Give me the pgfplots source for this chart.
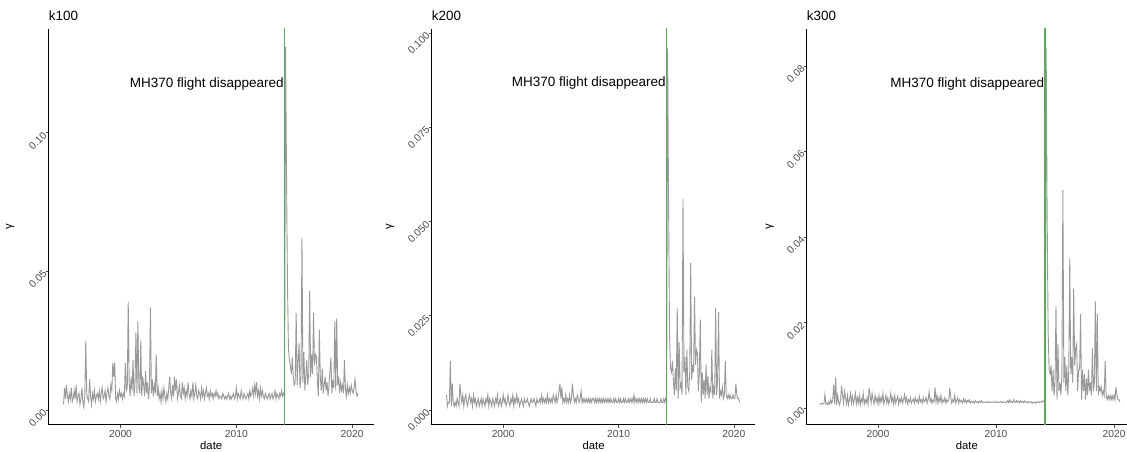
\documentclass[border=0pt]{standalone}
\usepackage{fontspec}
\setmainfont{Liberation Sans}
\usepackage{pgfplots}
\usepackage{pgfplotstable}
\pgfplotsset{compat=1.18}
\definecolor{tickgray}{HTML}{4D4D4D}
\definecolor{linegray}{HTML}{999999}
\definecolor{vgreen}{HTML}{5DAA5D}

% monthly values, first row starts Feb 1995
\pgfplotstableread[row sep=\\]{
y\\
0.002\\ 0.008\\ 0.004\\ 0.009\\ 0.005\\ 0.003\\ 0.006\\ 0.004\\ 0.008\\ 0.003\\ 0.004\\ 0.007\\
0.004\\ 0.009\\ 0.003\\ 0.005\\ 0.006\\ 0.002\\ 0.004\\ 0.008\\ 0.003\\ 0.001\\ 0.005\\ 0.025\\
0.006\\ 0.004\\ 0.003\\ 0.011\\ 0.005\\ 0.002\\ 0.006\\ 0.004\\ 0.007\\ 0.003\\ 0.005\\ 0.006\\
0.004\\ 0.007\\ 0.003\\ 0.006\\ 0.008\\ 0.004\\ 0.005\\ 0.007\\ 0.003\\ 0.006\\ 0.008\\ 0.005\\
0.004\\ 0.009\\ 0.007\\ 0.017\\ 0.012\\ 0.017\\ 0.004\\ 0.003\\ 0.006\\ 0.004\\ 0.007\\ 0.005\\
0.006\\ 0.004\\ 0.006\\ 0.005\\ 0.017\\ 0.007\\ 0.008\\ 0.039\\ 0.010\\ 0.005\\ 0.012\\ 0.007\\
0.018\\ 0.005\\ 0.009\\ 0.028\\ 0.006\\ 0.032\\ 0.008\\ 0.006\\ 0.025\\ 0.005\\ 0.012\\ 0.009\\
0.005\\ 0.014\\ 0.006\\ 0.010\\ 0.004\\ 0.008\\ 0.037\\ 0.006\\ 0.011\\ 0.005\\ 0.009\\ 0.006\\
0.020\\ 0.005\\ 0.008\\ 0.004\\ 0.006\\ 0.003\\ 0.007\\ 0.004\\ 0.008\\ 0.005\\ 0.003\\ 0.006\\
0.004\\ 0.008\\ 0.012\\ 0.006\\ 0.004\\ 0.009\\ 0.005\\ 0.012\\ 0.007\\ 0.011\\ 0.004\\ 0.006\\
0.009\\ 0.005\\ 0.004\\ 0.010\\ 0.006\\ 0.008\\ 0.004\\ 0.007\\ 0.005\\ 0.010\\ 0.006\\ 0.004\\
0.007\\ 0.005\\ 0.010\\ 0.004\\ 0.006\\ 0.009\\ 0.005\\ 0.004\\ 0.007\\ 0.006\\ 0.004\\ 0.008\\
0.005\\ 0.007\\ 0.004\\ 0.006\\ 0.008\\ 0.005\\ 0.006\\ 0.004\\ 0.007\\ 0.005\\ 0.006\\ 0.004\\
0.006\\ 0.005\\ 0.007\\ 0.005\\ 0.006\\ 0.004\\ 0.005\\ 0.005\\ 0.004\\ 0.006\\ 0.005\\ 0.004\\
0.005\\ 0.004\\ 0.005\\ 0.006\\ 0.004\\ 0.005\\ 0.004\\ 0.005\\ 0.006\\ 0.004\\ 0.005\\ 0.008\\
0.004\\ 0.006\\ 0.005\\ 0.004\\ 0.007\\ 0.005\\ 0.004\\ 0.006\\ 0.005\\ 0.004\\ 0.005\\ 0.006\\
0.004\\ 0.007\\ 0.005\\ 0.006\\ 0.008\\ 0.005\\ 0.009\\ 0.006\\ 0.010\\ 0.005\\ 0.007\\ 0.004\\
0.008\\ 0.005\\ 0.007\\ 0.005\\ 0.004\\ 0.006\\ 0.005\\ 0.004\\ 0.005\\ 0.006\\ 0.004\\ 0.005\\
0.006\\ 0.004\\ 0.005\\ 0.007\\ 0.004\\ 0.006\\ 0.005\\ 0.004\\ 0.006\\ 0.005\\ 0.007\\ 0.005\\
0.006\\ 0.005\\ 0.131\\ 0.085\\ 0.045\\ 0.022\\ 0.018\\ 0.016\\ 0.013\\ 0.019\\ 0.012\\ 0.009\\
0.010\\ 0.035\\ 0.009\\ 0.018\\ 0.024\\ 0.008\\ 0.012\\ 0.062\\ 0.010\\ 0.021\\ 0.007\\ 0.012\\
0.018\\ 0.009\\ 0.013\\ 0.043\\ 0.012\\ 0.020\\ 0.013\\ 0.035\\ 0.016\\ 0.020\\ 0.019\\ 0.010\\
0.005\\ 0.029\\ 0.012\\ 0.007\\ 0.015\\ 0.006\\ 0.009\\ 0.012\\ 0.007\\ 0.010\\ 0.005\\ 0.009\\
0.014\\ 0.019\\ 0.006\\ 0.010\\ 0.008\\ 0.032\\ 0.007\\ 0.033\\ 0.009\\ 0.012\\ 0.006\\ 0.010\\
0.007\\ 0.009\\ 0.006\\ 0.018\\ 0.008\\ 0.005\\ 0.009\\ 0.006\\ 0.008\\ 0.006\\ 0.009\\ 0.007\\
0.006\\ 0.008\\ 0.011\\ 0.007\\ 0.005\\ 0.006\\
}\dataA

\pgfplotstableread[row sep=\\]{
y\\
0.004\\ 0.001\\ 0.002\\ 0.002\\ 0.013\\ 0.001\\ 0.007\\ 0.002\\ 0.001\\ 0.002\\ 0.001\\ 0.003\\
0.002\\ 0.001\\ 0.007\\ 0.004\\ 0.002\\ 0.004\\ 0.001\\ 0.003\\ 0.004\\ 0.002\\ 0.001\\ 0.003\\
0.004\\ 0.002\\ 0.003\\ 0.001\\ 0.004\\ 0.002\\ 0.003\\ 0.001\\ 0.002\\ 0.003\\ 0.001\\ 0.002\\
0.003\\ 0.001\\ 0.003\\ 0.002\\ 0.001\\ 0.003\\ 0.002\\ 0.004\\ 0.001\\ 0.003\\ 0.002\\ 0.001\\
0.003\\ 0.002\\ 0.001\\ 0.003\\ 0.002\\ 0.004\\ 0.001\\ 0.002\\ 0.003\\ 0.001\\ 0.002\\ 0.004\\
0.002\\ 0.003\\ 0.001\\ 0.002\\ 0.004\\ 0.002\\ 0.001\\ 0.003\\ 0.002\\ 0.004\\ 0.001\\ 0.003\\
0.002\\ 0.004\\ 0.002\\ 0.003\\ 0.001\\ 0.002\\ 0.003\\ 0.002\\ 0.001\\ 0.003\\ 0.002\\ 0.002\\
0.003\\ 0.002\\ 0.001\\ 0.002\\ 0.003\\ 0.002\\ 0.002\\ 0.003\\ 0.002\\ 0.001\\ 0.003\\ 0.002\\
0.002\\ 0.003\\ 0.002\\ 0.004\\ 0.002\\ 0.003\\ 0.002\\ 0.003\\ 0.002\\ 0.004\\ 0.002\\ 0.003\\
0.002\\ 0.003\\ 0.002\\ 0.004\\ 0.003\\ 0.002\\ 0.004\\ 0.002\\ 0.003\\ 0.005\\ 0.007\\ 0.003\\
0.006\\ 0.002\\ 0.003\\ 0.002\\ 0.004\\ 0.002\\ 0.003\\ 0.002\\ 0.004\\ 0.002\\ 0.003\\ 0.007\\
0.004\\ 0.002\\ 0.003\\ 0.002\\ 0.004\\ 0.003\\ 0.002\\ 0.003\\ 0.005\\ 0.002\\ 0.003\\ 0.002\\
0.003\\ 0.002\\ 0.003\\ 0.002\\ 0.003\\ 0.002\\ 0.003\\ 0.002\\ 0.003\\ 0.003\\ 0.002\\ 0.003\\
0.002\\ 0.003\\ 0.002\\ 0.003\\ 0.002\\ 0.003\\ 0.002\\ 0.003\\ 0.002\\ 0.003\\ 0.002\\ 0.003\\
0.002\\ 0.003\\ 0.002\\ 0.003\\ 0.002\\ 0.002\\ 0.003\\ 0.002\\ 0.003\\ 0.002\\ 0.002\\ 0.003\\
0.002\\ 0.003\\ 0.002\\ 0.002\\ 0.003\\ 0.002\\ 0.003\\ 0.002\\ 0.002\\ 0.003\\ 0.002\\ 0.003\\
0.002\\ 0.003\\ 0.002\\ 0.004\\ 0.002\\ 0.003\\ 0.002\\ 0.003\\ 0.002\\ 0.003\\ 0.002\\ 0.003\\
0.002\\ 0.003\\ 0.002\\ 0.003\\ 0.002\\ 0.003\\ 0.002\\ 0.002\\ 0.003\\ 0.002\\ 0.002\\ 0.002\\
0.003\\ 0.002\\ 0.002\\ 0.003\\ 0.002\\ 0.002\\ 0.002\\ 0.003\\ 0.002\\ 0.002\\ 0.003\\ 0.002\\
0.003\\ 0.002\\ 0.096\\ 0.055\\ 0.020\\ 0.011\\ 0.010\\ 0.013\\ 0.008\\ 0.004\\ 0.011\\ 0.005\\
0.027\\ 0.003\\ 0.018\\ 0.006\\ 0.007\\ 0.004\\ 0.056\\ 0.010\\ 0.014\\ 0.004\\ 0.016\\ 0.006\\
0.005\\ 0.010\\ 0.039\\ 0.008\\ 0.012\\ 0.010\\ 0.030\\ 0.012\\ 0.016\\ 0.015\\ 0.005\\ 0.010\\
0.024\\ 0.002\\ 0.010\\ 0.004\\ 0.008\\ 0.003\\ 0.012\\ 0.004\\ 0.009\\ 0.003\\ 0.006\\ 0.005\\
0.016\\ 0.003\\ 0.006\\ 0.004\\ 0.027\\ 0.004\\ 0.008\\ 0.026\\ 0.003\\ 0.005\\ 0.004\\ 0.006\\
0.003\\ 0.004\\ 0.013\\ 0.004\\ 0.003\\ 0.004\\ 0.003\\ 0.004\\ 0.003\\ 0.003\\ 0.004\\ 0.003\\
0.003\\ 0.007\\ 0.004\\ 0.003\\ 0.003\\ 0.002\\
}\dataB

\pgfplotstableread[row sep=\\]{
y\\
0.0008\\ 0.0010\\ 0.0012\\ 0.0010\\ 0.0010\\ 0.0032\\ 0.0010\\ 0.0012\\ 0.0008\\ 0.0015\\ 0.0010\\ 0.0020\\
0.0012\\ 0.0020\\ 0.0055\\ 0.0010\\ 0.0072\\ 0.0008\\ 0.0030\\ 0.0015\\ 0.0008\\ 0.0020\\ 0.0053\\ 0.0030\\
0.0012\\ 0.0040\\ 0.0025\\ 0.0010\\ 0.0030\\ 0.0008\\ 0.0020\\ 0.0035\\ 0.0012\\ 0.0028\\ 0.0010\\ 0.0020\\
0.0035\\ 0.0010\\ 0.0025\\ 0.0012\\ 0.0030\\ 0.0008\\ 0.0022\\ 0.0015\\ 0.0035\\ 0.0010\\ 0.0020\\ 0.0012\\
0.0025\\ 0.0010\\ 0.0048\\ 0.0030\\ 0.0012\\ 0.0035\\ 0.0020\\ 0.0010\\ 0.0030\\ 0.0015\\ 0.0025\\ 0.0010\\
0.0030\\ 0.0012\\ 0.0025\\ 0.0015\\ 0.0035\\ 0.0010\\ 0.0020\\ 0.0030\\ 0.0012\\ 0.0025\\ 0.0010\\ 0.0020\\
0.0035\\ 0.0015\\ 0.0025\\ 0.0010\\ 0.0030\\ 0.0012\\ 0.0020\\ 0.0028\\ 0.0010\\ 0.0022\\ 0.0015\\ 0.0025\\
0.0012\\ 0.0020\\ 0.0032\\ 0.0015\\ 0.0025\\ 0.0010\\ 0.0020\\ 0.0015\\ 0.0025\\ 0.0012\\ 0.0018\\ 0.0022\\
0.0012\\ 0.0025\\ 0.0015\\ 0.0020\\ 0.0012\\ 0.0028\\ 0.0015\\ 0.0020\\ 0.0012\\ 0.0025\\ 0.0015\\ 0.0018\\
0.0025\\ 0.0012\\ 0.0020\\ 0.0038\\ 0.0015\\ 0.0022\\ 0.0012\\ 0.0020\\ 0.0015\\ 0.0049\\ 0.0015\\ 0.0030\\
0.0012\\ 0.0025\\ 0.0015\\ 0.0030\\ 0.0012\\ 0.0020\\ 0.0015\\ 0.0025\\ 0.0012\\ 0.0020\\ 0.0015\\ 0.0020\\
0.0047\\ 0.0025\\ 0.0012\\ 0.0020\\ 0.0015\\ 0.0030\\ 0.0012\\ 0.0018\\ 0.0025\\ 0.0012\\ 0.0020\\ 0.0015\\
0.0018\\ 0.0012\\ 0.0022\\ 0.0015\\ 0.0020\\ 0.0012\\ 0.0018\\ 0.0015\\ 0.0020\\ 0.0012\\ 0.0016\\ 0.0014\\
0.0016\\ 0.0012\\ 0.0018\\ 0.0014\\ 0.0015\\ 0.0012\\ 0.0016\\ 0.0014\\ 0.0018\\ 0.0013\\ 0.0015\\ 0.0014\\
0.0015\\ 0.0013\\ 0.0014\\ 0.0016\\ 0.0013\\ 0.0015\\ 0.0014\\ 0.0013\\ 0.0015\\ 0.0014\\ 0.0016\\ 0.0013\\
0.0014\\ 0.0015\\ 0.0013\\ 0.0014\\ 0.0016\\ 0.0013\\ 0.0015\\ 0.0014\\ 0.0013\\ 0.0015\\ 0.0014\\ 0.0018\\
0.0013\\ 0.0020\\ 0.0014\\ 0.0016\\ 0.0013\\ 0.0020\\ 0.0015\\ 0.0013\\ 0.0018\\ 0.0014\\ 0.0016\\ 0.0013\\
0.0018\\ 0.0014\\ 0.0016\\ 0.0013\\ 0.0017\\ 0.0014\\ 0.0015\\ 0.0013\\ 0.0016\\ 0.0014\\ 0.0013\\ 0.0015\\
0.0012\\ 0.0014\\ 0.0013\\ 0.0015\\ 0.0012\\ 0.0014\\ 0.0016\\ 0.0013\\ 0.0015\\ 0.0014\\ 0.0017\\ 0.0015\\
0.0018\\ 0.0015\\ 0.0843\\ 0.045\\ 0.018\\ 0.009\\ 0.008\\ 0.010\\ 0.004\\ 0.009\\ 0.003\\ 0.006\\
0.024\\ 0.002\\ 0.015\\ 0.004\\ 0.006\\ 0.003\\ 0.008\\ 0.051\\ 0.006\\ 0.012\\ 0.004\\ 0.010\\
0.003\\ 0.009\\ 0.035\\ 0.008\\ 0.012\\ 0.006\\ 0.028\\ 0.010\\ 0.014\\ 0.015\\ 0.004\\ 0.009\\
0.009\\ 0.022\\ 0.002\\ 0.009\\ 0.004\\ 0.008\\ 0.002\\ 0.007\\ 0.003\\ 0.009\\ 0.004\\ 0.006\\
0.003\\ 0.014\\ 0.004\\ 0.006\\ 0.025\\ 0.004\\ 0.022\\ 0.003\\ 0.005\\ 0.004\\ 0.005\\ 0.003\\
0.004\\ 0.003\\ 0.011\\ 0.003\\ 0.002\\ 0.003\\ 0.002\\ 0.003\\ 0.002\\ 0.003\\ 0.002\\ 0.003\\
0.002\\ 0.005\\ 0.003\\ 0.002\\ 0.002\\ 0.0015\\
}\dataC

\pgfplotsset{gg/.style={
  scale only axis, height=396pt,
  axis lines*=left,
  axis line style={black, line width=1pt},
  tick align=outside, major tick length=3pt,
  every tick/.style={tickgray, line width=0.8pt},
  xtick={2000,2010,2020},
  scaled y ticks=false, scaled x ticks=false,
  /pgf/number format/assume math mode=true,
  x tick label style={font=\fontsize{10.3}{12}\selectfont, text=tickgray,
    /pgf/number format/1000 sep={}, inner sep=2pt},
  y tick label style={font=\fontsize{10.3}{12}\selectfont, text=tickgray,
    rotate=45, anchor=east, inner sep=1pt,
    /pgf/number format/fixed, /pgf/number format/fixed zerofill},
  xlabel={date}, ylabel={γ},
  xlabel style={font=\fontsize{11.3}{13}\selectfont, at={(axis description cs:0.5,0)}, anchor=base, yshift=-25pt},
  ylabel style={font=\fontsize{11.3}{13}\selectfont, anchor=center},
  every axis title shift=0pt,
  title style={font=\fontsize{13.4}{15}\selectfont, at={(axis description cs:0,1)}, anchor=base west, yshift=8.3pt, inner sep=0pt},
  clip=true,
}}

\newcommand{\annot}{\fontsize{13.5}{16}\selectfont}

\begin{document}
\begin{tikzpicture}
\useasboundingbox (0,0) rectangle (1127pt,452pt);

\begin{axis}[gg, at={(48.7pt,27pt)}, anchor=south west, width=325pt,
  xmin=1993.8, xmax=2021.86, ymin=-0.0054, ymax=0.1375,
  ytick={0,0.05,0.1},
  y tick label style={/pgf/number format/precision=2},
  ylabel style={at={(axis description cs:-0.119,0.5)}},
  title={k100}]
\addplot[linegray, line width=0.9pt] table[x expr=1995.0833+\coordindex/12, y=y] {\dataA};
\addplot[vgreen, line width=1.2pt] coordinates {(2014.15,-1) (2014.15,1)};
\node[anchor=east, font=\annot, inner sep=0.5pt] at (axis cs:2014.15,0.1177) {MH370 flight disappeared};
\end{axis}

\begin{axis}[gg, at={(431.7pt,27pt)}, anchor=south west, width=323.7pt,
  xmin=1993.8, xmax=2021.86, ymin=-0.00398, ymax=0.10114,
  ytick={0,0.025,0.05,0.075,0.1},
  y tick label style={/pgf/number format/precision=3},
  ylabel style={at={(axis description cs:-0.129,0.5)}},
  title={k200}]
\addplot[linegray, line width=0.9pt] table[x expr=1995.0833+\coordindex/12, y=y] {\dataB};
\addplot[vgreen, line width=1.2pt] coordinates {(2014.15,-1) (2014.15,1)};
\node[anchor=east, font=\annot, inner sep=0.5pt] at (axis cs:2014.15,0.0867) {MH370 flight disappeared};
\end{axis}

\begin{axis}[gg, at={(806.7pt,27pt)}, anchor=south west, width=320.3pt,
  xmin=1993.96, xmax=2021.1, ymin=-0.0039, ymax=0.08865,
  ytick={0,0.02,0.04,0.06,0.08},
  y tick label style={/pgf/number format/precision=2},
  ylabel style={at={(axis description cs:-0.115,0.5)}},
  title={k300}]
\addplot[linegray, line width=0.9pt] table[x expr=1995.0833+\coordindex/12, y=y] {\dataC};
\addplot[vgreen, line width=1.2pt] coordinates {(2014.15,-1) (2014.15,1)};
\node[anchor=east, font=\annot, inner sep=0.5pt] at (axis cs:2014.15,0.0758) {MH370 flight disappeared};
\end{axis}
\end{tikzpicture}
\end{document}
